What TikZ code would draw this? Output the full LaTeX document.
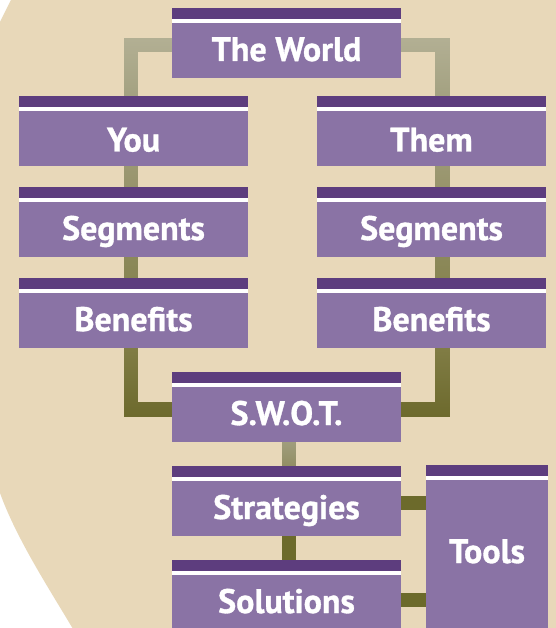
\documentclass[tikz,border=0pt]{standalone}
\usepackage{fontspec}
\newfontfamily\boxfont{PT Sans}[BoldFeatures={FakeBold=1}]
\usetikzlibrary{fadings}
\definecolor{beige}{HTML}{E8D8B9}
\definecolor{pdark}{HTML}{5D3D7E}
\definecolor{plight}{HTML}{8A73A5}
\definecolor{oliveA}{HTML}{6C6A2B}
\definecolor{c1t}{HTML}{B3B094}
\definecolor{c1b}{HTML}{A2A07F}
\definecolor{c2t}{HTML}{9D9A75}
\definecolor{c2b}{HTML}{979369}
\definecolor{c3t}{HTML}{8E8B5C}
\definecolor{c3b}{HTML}{878452}
\definecolor{c4t}{HTML}{837F48}
\definecolor{c4b}{HTML}{6D6A2D}
\definecolor{c5t}{HTML}{A5A283}
\definecolor{c5b}{HTML}{8E8A5E}
\pgfdeclarelayer{bg}
\pgfsetlayers{bg,main}
\tikzset{
  box/.style={fill=plight, minimum width=229pt, minimum height=70pt, inner sep=0pt,
    text=white, font=\boxfont\bfseries\fontsize{34}{34}\selectfont,
    text height=40pt, text depth=4pt,
    path picture={
      \fill[pdark] (path picture bounding box.north west) rectangle ([yshift=-11pt]path picture bounding box.north east);
      \fill[white] ([yshift=-11pt]path picture bounding box.north west) rectangle ([yshift=-14.7pt]path picture bounding box.north east);
    }},
  lowtext/.style={text height=43pt, text depth=2pt},
  connline/.style={line width=14.5pt, line join=miter},
}
\newcommand\conn[3]{%
  \draw[connline,#3] #1;
  \draw[connline,#2,path fading=south] #1;
}
\begin{document}
\begin{tikzpicture}[x=1pt,y=-1pt]
\useasboundingbox (0,0) rectangle (555,628);
\clip (0,0) rectangle (555,628);
% nodes
\node[box] (world) at (286.5,43) {The World};
\node[box, lowtext] (you) at (133.5,131) {You};
\node[box, lowtext] (them) at (431.5,131) {Them};
\node[box] (segL) at (133.5,222) {Segments};
\node[box] (segR) at (431.5,222) {Segments};
\node[box] (benL) at (133.5,313) {Benefits};
\node[box] (benR) at (431.5,313) {Benefits};
\node[box] (swot) at (286.5,407) {S.W.O.T.};
\node[box] (strat) at (286.5,501) {Strategies};
\node[box] (sol) at (286.5,595) {Solutions};
\node[box, minimum width=122pt, minimum height=175pt, text height=23pt, text depth=2pt] (tools) at (487,552.5) {Tools};
\coordinate (lx) at (130.8,0);
\coordinate (rx) at (442.5,0);
\coordinate (mx) at (289.2,0);
\begin{pgfonlayer}{bg}
\fill[white] (0,0) rectangle (555,628);
\fill[beige] (14,-6) -- (0,22) .. controls (-44,110) and (-37,393) .. (0,493)
  .. controls (17,540) and (50,590) .. (76,634)
  -- (560,634) -- (560,-6) -- cycle;
\conn{([yshift=-2pt]world.west) -| (you.north -| lx)}{c1t}{c1b}
\conn{([yshift=-2pt]world.east) -| (them.north -| rx)}{c1t}{c1b}
\conn{(you.south -| lx) -- (segL.north -| lx)}{c2t}{c2b}
\conn{(them.south -| rx) -- (segR.north -| rx)}{c2t}{c2b}
\conn{(segL.south -| lx) -- (benL.north -| lx)}{c3t}{c3b}
\conn{(segR.south -| rx) -- (benR.north -| rx)}{c3t}{c3b}
\conn{(benL.south -| lx) |- ([yshift=-2.5pt]swot.west)}{c4t}{c4b}
\conn{(benR.south -| rx) |- ([yshift=-2.5pt]swot.east)}{c4t}{c4b}
\conn{(swot.south -| mx) -- (strat.north -| mx)}{c5t}{c5b}
\draw[connline,oliveA] (strat.south -| mx) -- (sol.north -| mx);
\draw[connline,oliveA] ([yshift=-2pt]strat.east) -- ([yshift=-2pt]strat.east -| tools.west);
\draw[connline,oliveA] ([yshift=-5pt]sol.east) -- ([yshift=-5pt]sol.east -| tools.west);
\end{pgfonlayer}
\end{tikzpicture}
\end{document}
